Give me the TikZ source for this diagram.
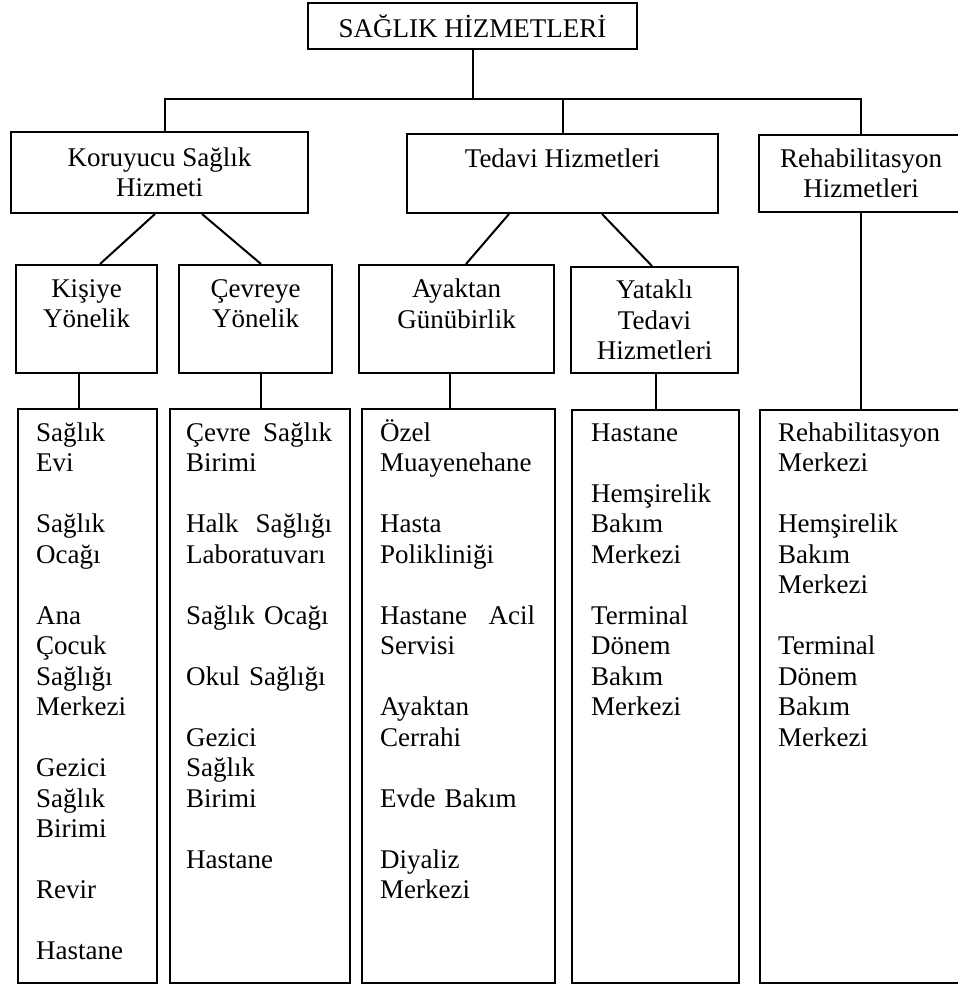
\documentclass[tikz,border=0pt]{standalone}
\usepackage{fontspec}
\setmainfont{Liberation Serif}
\usetikzlibrary{positioning,calc}

\tikzset{
  kutu/.style={draw, line width=2pt, align=center, inner sep=0pt,
    font=\fontsize{27}{30.5}\selectfont},
  liste/.style={draw, line width=2pt, anchor=north west, inner sep=0pt,
    minimum height=574pt},
  listemetni/.style={anchor=base west, align=left, inner sep=0pt,
    font=\fontsize{27}{30.5}\selectfont},
  bag/.style={line width=2pt}
}

\begin{document}
\begin{tikzpicture}[x=1pt, y=-1pt]
    \useasboundingbox (0,0) rectangle (958,985);

    % top box
    \node[kutu, minimum width=329pt, minimum height=46pt] (ust) at (472.5,26)
    {SAĞLIK HİZMETLERİ};

    % first level
    \node[kutu, minimum width=297pt, minimum height=81pt] (koru) at (159.5,172.5)
    {Koruyucu Sağlık\\Hizmeti};
    \node[kutu, minimum width=311pt, minimum height=79pt] (tedavi) at (562.5,173.5)
    {Tedavi Hizmetleri\\~};
    \node[kutu, minimum width=204pt, minimum height=77pt] (rehab) at (861,173.5)
    {Rehabilitasyon\\Hizmetleri};

    % second level
    \node[kutu, minimum width=141pt, minimum height=108pt] (kisi) at (86.5,319)
    {Kişiye\\Yönelik\\~};
    \node[kutu, minimum width=153pt, minimum height=108pt] (cevre) at (255.5,319)
    {Çevreye\\Yönelik\\~};
    \node[kutu, minimum width=195pt, minimum height=108pt] (ayaktan) at (456.5,319)
    {Ayaktan\\Günübirlik\\~};
    \node[kutu, minimum width=167pt, minimum height=106pt] (yatakli) at (654.5,320)
    {Yataklı\\Tedavi\\Hizmetleri};

    % list boxes
    \node[liste, minimum width=139pt] (l1) at (17,408) {};
    \node[liste, minimum width=180pt] (l2) at (169,408) {};
    \node[liste, minimum width=193pt] (l3) at (361,408) {};
    \node[liste, minimum width=167pt, minimum height=573pt] (l4) at (571,409) {};
    \node[liste, minimum width=204pt, minimum height=573pt] (l5) at (759,409) {};

    % list texts
    \node[listemetni, text width=101pt] (m1) at ([xshift=19pt, yshift=-33pt]l1.north west)
    {Sağlık\\Evi\\[\baselineskip]Sağlık\\Ocağı\\[\baselineskip]Ana\\Çocuk\\Sağlığı\\Merkezi\\[\baselineskip]Gezici\\Sağlık\\Birimi\\[\baselineskip]Revir\\[\baselineskip]Hastane};
    \node[listemetni, text width=146pt] (m2) at ([xshift=17pt, yshift=-33pt]l2.north west)
    {Çevre\hfill Sağlık\\Birimi\\[\baselineskip]Halk\hfill Sağlığı\\Laboratuvarı\\[\baselineskip]Sağlık Ocağı\\[\baselineskip]Okul Sağlığı\\[\baselineskip]Gezici\\Sağlık\\Birimi\\[\baselineskip]Hastane};
    \node[listemetni, text width=155pt] (m3) at ([xshift=19pt, yshift=-33pt]l3.north west)
    {Özel\\Muayenehane\\[\baselineskip]Hasta\\Polikliniği\\[\baselineskip]Hastane\hfill Acil\\Servisi\\[\baselineskip]Ayaktan\\Cerrahi\\[\baselineskip]Evde Bakım\\[\baselineskip]Diyaliz\\Merkezi};
    \node[listemetni, text width=140pt] (m4) at ([xshift=20pt, yshift=-32pt]l4.north west)
    {Hastane\\[\baselineskip]Hemşirelik\\Bakım\\Merkezi\\[\baselineskip]Terminal\\Dönem\\Bakım\\Merkezi};
    \node[listemetni, text width=170pt] (m5) at ([xshift=19pt, yshift=-32pt]l5.north west)
    {Rehabilitasyon\\Merkezi\\[\baselineskip]Hemşirelik\\Bakım\\Merkezi\\[\baselineskip]Terminal\\Dönem\\Bakım\\Merkezi};

    % tree lines
    \coordinate (bar) at (0,99);
    \draw[bag] (ust.south) -- (ust.south |- bar);
    \draw[bag] ([xshift=5.5pt]koru.north) |- (bar -| rehab.north) -- (rehab.north);
    \draw[bag] (tedavi.north) -- (tedavi.north |- bar);

    % diagonal lines
    \foreach \ust/\alt/\a/\b in {koru/kisi/-4.5/13.5, koru/cevre/42.5/5.5,
      tedavi/ayaktan/-53.5/9.5, tedavi/yatakli/39.5/-2.5}
      \draw[bag] ([xshift=\a pt]\ust.south) -- ([xshift=\b pt]\alt.north);

    % drops to the lists
    \foreach \ust/\alt/\k in {kisi/l1/-7.5, cevre/l2/5.5, ayaktan/l3/-6.5,
      yatakli/l4/1.5, rehab/l5/0}
      \draw[bag] ([xshift=\k pt]\ust.south) -- ([xshift=\k pt]\ust.south |- \alt.north);
\end{tikzpicture}
\end{document}
